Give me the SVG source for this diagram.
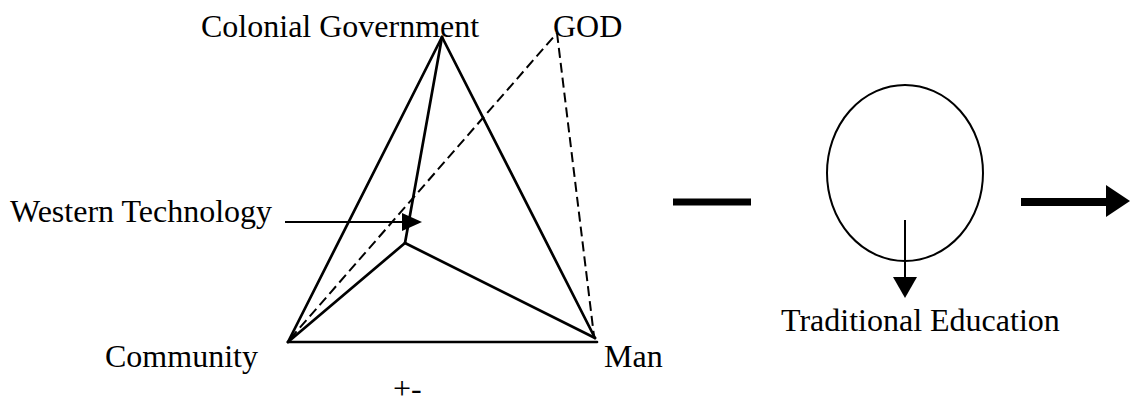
<svg xmlns="http://www.w3.org/2000/svg" width="1130" height="406" viewBox="0 0 1130 406">
<style>
.t{font-family:"Liberation Serif","Times New Roman",serif;font-size:32px;fill:#000}
.s{stroke:#000;stroke-width:2.7;fill:none;stroke-linecap:round}
.d{stroke:#000;stroke-width:2;fill:none;stroke-dasharray:10 5}
.thick{stroke:#000;stroke-width:7;fill:none}
</style>
<rect width="1130" height="406" fill="#fff"/>
<g id="connectors">
<line class="s" x1="442" y1="37" x2="288" y2="342"/>
<line class="s" x1="442" y1="37" x2="595" y2="338"/>
<line class="s" x1="442" y1="37" x2="405" y2="243"/>
<line class="s" x1="405" y1="243" x2="288" y2="342"/>
<line class="s" x1="405" y1="243" x2="595" y2="338"/>
<line class="s" x1="288" y1="342" x2="597" y2="342"/>
<line class="d" x1="290" y1="339" x2="557" y2="33"/>
<line class="d" x1="557" y1="33" x2="594" y2="336"/>
<line x1="285" y1="222" x2="404" y2="222" stroke="#000" stroke-width="2"/>
<polygon points="402,213 422,222 402,231" fill="#000"/>
<line class="thick" x1="673" y1="202" x2="751" y2="202"/>
<line x1="1021" y1="202" x2="1107" y2="202" stroke="#000" stroke-width="8"/>
<polygon points="1106,185 1130,201 1106,217" fill="#000"/>
<line x1="905" y1="220" x2="905" y2="278" stroke="#000" stroke-width="2"/>
<polygon points="893,277 917,277 905,298" fill="#000"/>
</g>
<g id="colonial-government"><text class="t" x="201" y="37">Colonial Government</text></g>
<g id="god"><text class="t" x="553" y="37">GOD</text></g>
<g id="western-technology"><text class="t" x="10" y="222">Western Technology</text></g>
<g id="community"><text class="t" x="105" y="367">Community</text></g>
<g id="man"><text class="t" x="604" y="367">Man</text></g>
<g id="plus-minus"><text class="t" x="393" y="399" font-size="26">+-</text></g>
<g id="tradition-circle"><ellipse cx="905" cy="173" rx="78" ry="88" fill="none" stroke="#000" stroke-width="2"/></g>
<g id="traditional-education"><text class="t" x="781" y="331">Traditional Education</text></g>
</svg>
